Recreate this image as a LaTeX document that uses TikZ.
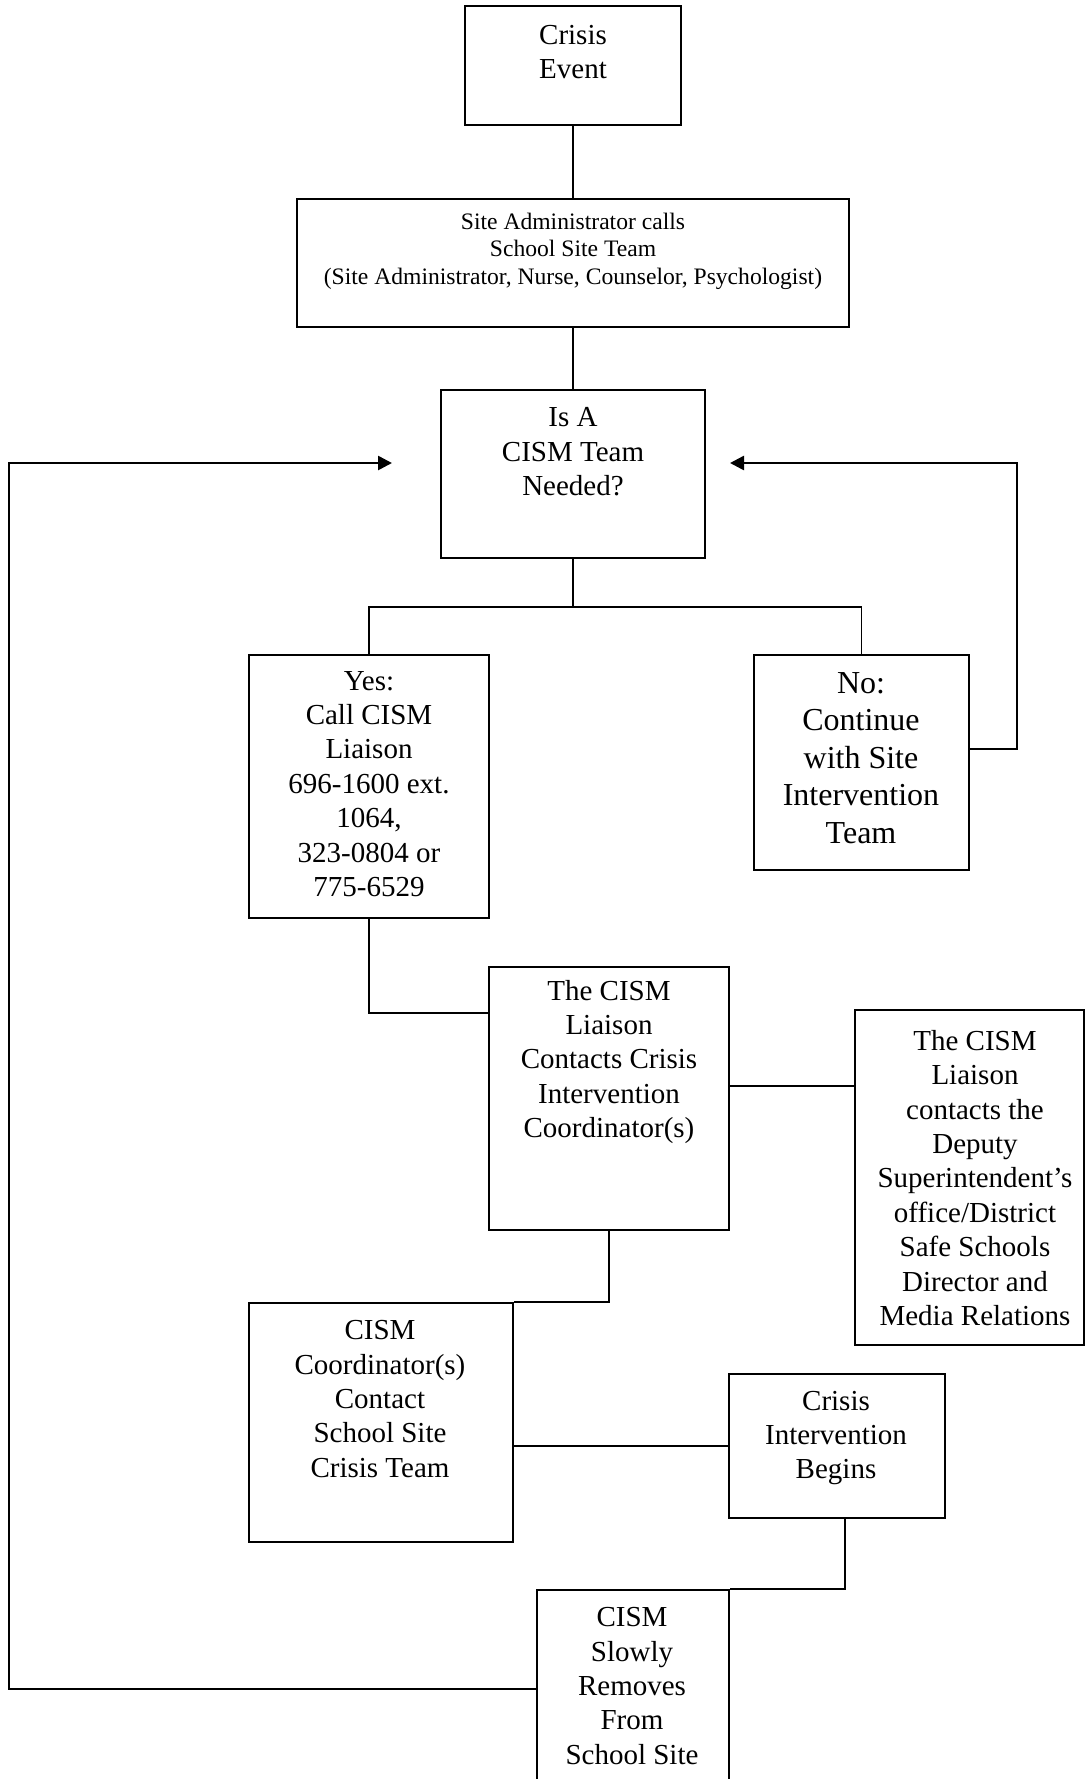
\documentclass[tikz,border=0pt]{standalone}
\usepackage{fontspec}
\setmainfont{Liberation Serif}
\usetikzlibrary{arrows.meta}
\begin{document}
\begin{tikzpicture}[x=0.5pt,y=-0.5pt,
  box/.style={draw,line width=1pt,inner sep=0pt,rectangle},
  txt/.style={align=center,inner sep=0pt,font=\fontsize{14.5}{17.2}\selectfont},
  conn/.style={line width=0.9pt},
  loopline/.style={line width=1.3pt},
  arr/.style={loopline,-{Triangle[length=7pt,width=7pt]}}]
\clip (0,0) rectangle (1086,1779);
\fill[white] (0,0) rectangle (1086,1779);
% boxes
\node[box,minimum width=108pt,minimum height=59.5pt] (ce) at (573,65.5) {};
\node[box,minimum width=276pt,minimum height=64pt] (sa) at (573,263) {};
\node[box,minimum width=132pt,minimum height=84pt] (q) at (573,474) {};
\node[box,minimum width=120pt,minimum height=131.5pt] (yes) at (369,786.5) {};
\node[box,minimum width=107.5pt,minimum height=107.5pt] (no) at (861.5,762.5) {};
\node[box,minimum width=120pt,minimum height=131.5pt] (li) at (609,1098.5) {};
\node[box,minimum width=114.5pt,minimum height=167.5pt] (dep) at (969.5,1177.5) {};
\node[box,minimum width=132pt,minimum height=119.5pt] (co) at (381,1422.5) {};
\node[box,minimum width=108pt,minimum height=72pt] (be) at (837,1446) {};
\node[box,minimum width=96pt,minimum height=110pt] (sl) at (633,1700) {};
% texts
\node[txt] (ceT) at (573,52) {Crisis\\Event};
\node[txt,font=\fontsize{11.8}{13.7}\selectfont] (saT) at (573,251) {Site Administrator calls\\School Site Team\\(Site Administrator, Nurse, Counselor, Psychologist)};
\node[txt] (qT) at (573,452) {Is A\\CISM Team\\Needed?};
\node[txt] (yesT) at (369,784) {Yes:\\Call CISM\\Liaison\\696-1600 ext.\\1064,\\323-0804 or\\775-6529};
\node[txt,font=\fontsize{16}{18.7}\selectfont] (noT) at (861,758) {No:\\Continue\\with Site\\Intervention\\Team};
\node[txt] (liT) at (609,1062) {The CISM\\Liaison\\Contacts Crisis\\Intervention\\Coordinator(s)};
\node[txt] (depT) at (975,1178) {The CISM\\Liaison\\contacts the\\Deputy\\Superintendent’s\\office/District\\Safe Schools\\Director and\\Media Relations};
\node[txt] (coT) at (380,1399) {CISM\\Coordinator(s)\\Contact\\School Site\\Crisis Team};
\node[txt] (beT) at (836,1438) {Crisis\\Intervention\\Begins};
\node[txt] (slT) at (632,1686) {CISM\\Slowly\\Removes\\From\\School Site};
% connectors
\coordinate (br) at (573,607);
\coordinate (nr) at (1017,463);
\coordinate (qr) at (730,463);
\coordinate (lc) at (9,463);
\coordinate (ql) at (392,463);
\draw[conn] (ce.south) -- (sa.north);
\draw[conn] (sa.south) -- (q.north);
\draw[conn] (q.south) -- (br);
\draw[conn] (yes.north) |- (br) -| (no.north);
\draw[arr] (no.east |- 0,749) -| (nr) -- (qr);
\draw[arr] (sl.west |- 0,1689) -| (lc) -- (ql);
\draw[conn] (yes.south) |- (li.west |- 0,1013);
\draw[conn] (li.east |- 0,1086) -- (dep.west |- 0,1086);
\draw[conn] (li.south) |- (co.north east);
\draw[conn] (co.east |- 0,1446) -- (be.west);
\draw[conn] (be.south -| 845,0) |- (sl.north east);
\end{tikzpicture}
\end{document}
